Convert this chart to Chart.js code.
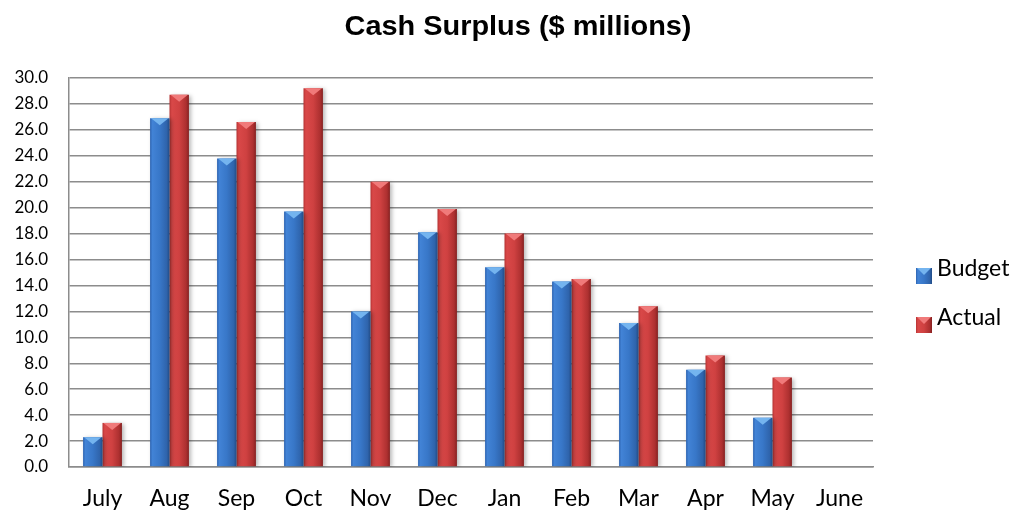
<!DOCTYPE html>
<html>
<head>
<meta charset="utf-8">
<script src="https://cdn.jsdelivr.net/npm/chart.js@4.4.1/dist/chart.umd.min.js"></script>
<style>
  html, body { margin: 0; padding: 0; background: #ffffff; }
  #wrap { width: 1016px; height: 512px; position: relative; }
</style>
</head>
<body>
<div id="wrap"><canvas id="c" width="1016" height="512"></canvas></div>
<script>
const chartTitle = 'Cash Surplus ($ millions)';
const categories = ['July', 'Aug', 'Sep', 'Oct', 'Nov', 'Dec', 'Jan', 'Feb', 'Mar', 'Apr', 'May', 'June'];
const budget = [2.3, 26.9, 23.8, 19.7, 12.0, 18.1, 15.4, 14.3, 11.1, 7.5, 3.8, null];
const actual = [3.4, 28.7, 26.6, 29.2, 22.0, 19.9, 18.0, 14.5, 12.4, 8.6, 6.9, null];
const seriesNames = ['Budget', 'Actual'];
const yMin = 0, yMax = 30, yStep = 2;

const palettes = [
  { stops: [[0, '#2d63b0'], [0.12, '#4283d6'], [0.5, '#3877c8'], [0.85, '#2f64ac'], [1, '#224c86']], cap: '#74b4ef', flat: '#3877c8' },
  { stops: [[0, '#b63333'], [0.12, '#d94848'], [0.5, '#cf4141'], [0.85, '#ad3030'], [1, '#852121']], cap: '#f07a7a', flat: '#cf4141' }
];

function makeGrad(ctx, x0, x1, pal) {
  const g = ctx.createLinearGradient(x0, 0, x1, 0);
  pal.stops.forEach(s => g.addColorStop(s[0], s[1]));
  return g;
}

const barStyler = {
  id: 'barStyler',
  beforeDatasetsDraw(chart) {
    const ctx = chart.ctx;
    chart.data.datasets.forEach((ds, di) => {
      const meta = chart.getDatasetMeta(di);
      meta.data.forEach(el => {
        const l = el.x - el.width / 2, r = el.x + el.width / 2;
        el.options = Object.assign({}, el.options, { backgroundColor: makeGrad(ctx, l, r, palettes[di]) });
      });
    });
    ctx.save();
    ctx.shadowColor = 'rgba(0,0,0,0.28)';
    ctx.shadowBlur = 4;
    ctx.shadowOffsetX = 2;
    ctx.shadowOffsetY = 1;
  },
  afterDatasetsDraw(chart) {
    const ctx = chart.ctx;
    ctx.restore();
    chart.data.datasets.forEach((ds, di) => {
      const meta = chart.getDatasetMeta(di);
      meta.data.forEach((el, i) => {
        if (ds.data[i] == null) return;
        const l = el.x - el.width / 2, r = el.x + el.width / 2;
        const top = el.y;
        ctx.save();
        ctx.beginPath();
        ctx.moveTo(l + 1, top);
        ctx.lineTo(r - 1, top);
        ctx.lineTo(el.x, top + 7);
        ctx.closePath();
        ctx.fillStyle = palettes[di].cap;
        ctx.fill();
        ctx.restore();
      });
    });
  },
  afterDraw(chart) {
    const ctx = chart.ctx;
    ctx.save();
    // title
    ctx.fillStyle = '#000';
    ctx.font = 'bold 27px "Liberation Sans", Arial, sans-serif';
    ctx.textAlign = 'center';
    ctx.textBaseline = 'alphabetic';
    const tw = ctx.measureText(chartTitle).width;
    const sx = 347 / tw;
    ctx.save();
    ctx.translate(518, 35);
    ctx.scale(sx, 1);
    ctx.fillText(chartTitle, 0, 0);
    ctx.restore();
    // legend
    const items = [{ y: 276 }, { y: 325 }];
    chart.data.datasets.forEach((ds, di) => {
      const by = items[di].y - 8;
      const bx = 916;
      ctx.fillStyle = makeGrad(ctx, bx, bx + 16, palettes[di]);
      ctx.fillRect(bx, by, 16, 16);
      ctx.beginPath();
      ctx.moveTo(bx + 1, by);
      ctx.lineTo(bx + 15, by);
      ctx.lineTo(bx + 8, by + 7);
      ctx.closePath();
      ctx.fillStyle = palettes[di].cap;
      ctx.fill();
      ctx.fillStyle = '#000';
      ctx.font = '23px Lato, "Open Sans", sans-serif';
      ctx.textAlign = 'left';
      ctx.fillText(ds.label, 937, items[di].y);
    });
    ctx.restore();
  }
};

new Chart(document.getElementById('c'), {
  type: 'bar',
  data: {
    labels: categories,
    datasets: [
      { label: seriesNames[0], data: budget, backgroundColor: palettes[0].flat, borderWidth: 0 },
      { label: seriesNames[1], data: actual, backgroundColor: palettes[1].flat, borderWidth: 0 }
    ]
  },
  options: {
    responsive: false,
    animation: false,
    devicePixelRatio: 1,
    layout: { padding: { top: 78, right: 143, bottom: 0, left: 0 } },
    plugins: {
      legend: { display: false },
      title: { display: false },
      tooltip: { enabled: false }
    },
    datasets: { bar: { categoryPercentage: 0.58, barPercentage: 1.0 } },
    scales: {
      x: {
        grid: { display: false, drawTicks: false },
        border: { display: true, color: '#8c8c8c', width: 1.5 },
        ticks: { color: '#000', font: { family: 'Lato', size: 23 }, padding: 18, maxRotation: 0 },
        afterFit(scale) { scale.height = 45; }
      },
      y: {
        min: yMin, max: yMax,
        grid: { color: '#8c8c8c', lineWidth: 1.5, drawTicks: false },
        border: { display: true, color: '#8c8c8c', width: 1.5 },
        ticks: {
          stepSize: yStep, color: '#000', padding: 21,
          font: { family: 'Lato', size: 17 },
          callback: v => Number(v).toFixed(1)
        },
        afterFit(scale) { scale.width = 69; }
      }
    }
  },
  plugins: [barStyler]
});
</script>
</body>
</html>
